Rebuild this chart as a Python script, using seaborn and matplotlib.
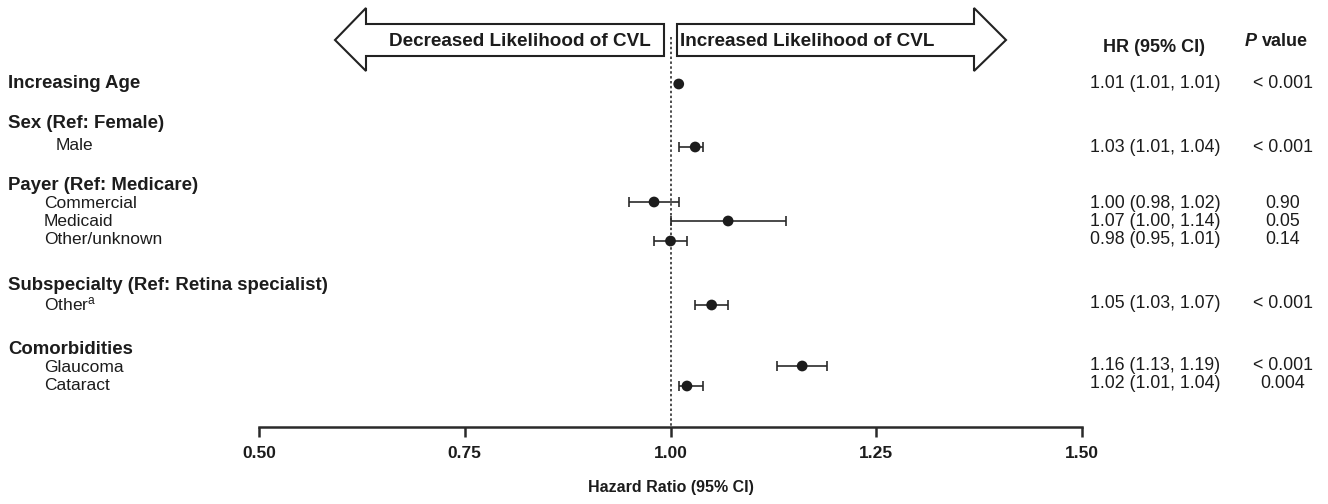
import matplotlib
matplotlib.use("Agg")
import matplotlib.pyplot as plt
import seaborn as sns
import pandas as pd
from matplotlib.patches import Polygon

# ---------------- data ----------------
categories = ["Increasing Age", "Male", "Commercial", "Medicaid", "Other/unknown",
              "Other$^{\\mathrm{a}}$", "Glaucoma", "Cataract"]
hr_point = [1.01, 1.03, 0.98, 1.07, 1.00, 1.05, 1.16, 1.02]
ci_low = [1.01, 1.01, 0.95, 1.00, 0.98, 1.03, 1.13, 1.01]
ci_high = [1.01, 1.04, 1.01, 1.14, 1.02, 1.07, 1.19, 1.04]
hr_text = ["1.01 (1.01, 1.01)", "1.03 (1.01, 1.04)", "1.00 (0.98, 1.02)",
           "1.07 (1.00, 1.14)", "0.98 (0.95, 1.01)", "1.05 (1.03, 1.07)",
           "1.16 (1.13, 1.19)", "1.02 (1.01, 1.04)"]
p_text = ["< 0.001", "< 0.001", "0.90", "0.05", "0.14", "< 0.001", "< 0.001", "0.004"]
group_headers = ["Sex (Ref: Female)", "Payer (Ref: Medicare)",
                 "Subspecialty (Ref: Retina specialist)", "Comorbidities"]
x_ticks = [0.50, 0.75, 1.00, 1.25, 1.50]
x_ticklabels = ["0.50", "0.75", "1.00", "1.25", "1.50"]
arrow_left_text = "Decreased Likelihood of CVL"
arrow_right_text = "Increased Likelihood of CVL"
x_label = "Hazard Ratio (95% CI)"

# ---------------- layout (pixel rows, from top) ----------------
W, H = 1328, 504
row_y = [84, 147, 202, 221, 241, 305, 366, 386]          # marks
label_y = [83, 146, 204, 222, 240, 304, 367, 385]        # left item labels
label_x = [8, 56, 44, 44, 44, 44, 44, 44]
text_y = [83, 148, 203, 222, 240, 303, 365, 383]         # right columns
header_y = [123, 186, 285, 349]

sns.set_theme(style="white")
plt.rcParams["font.family"] = ["Liberation Sans", "DejaVu Sans"]
plt.rcParams["mathtext.fontset"] = "custom"
plt.rcParams["mathtext.rm"] = "Liberation Sans"
plt.rcParams["mathtext.it"] = "Liberation Sans:italic"

ink = "#1c1c1c"
fig = plt.figure(figsize=(W / 100, H / 100), dpi=100)
fig.patch.set_facecolor("white")

# main axes: x in HR units, y in pixel rows
ax = fig.add_axes([259 / W, (H - 427) / H, 823 / W, 427 / H])
ax.set_facecolor("none")

df = pd.DataFrame({"category": categories, "hr": hr_point, "lo": ci_low,
                   "hi": ci_high, "y": row_y})

ax.vlines(1.0, 37, 427, colors=ink, linestyles=(0, (1.6, 1.6)), linewidth=1.1, zorder=1)
ax.errorbar(df["hr"], df["y"], xerr=[df["hr"] - df["lo"], df["hi"] - df["hr"]],
            fmt="none", ecolor="#2a2a2a", elinewidth=1.2, capsize=3.5, capthick=1.2, zorder=2)
sns.scatterplot(data=df, x="hr", y="y", ax=ax, color=ink, s=60, edgecolor="none",
                zorder=3, legend=False)

ax.set_xlim(0.5, 1.5)
ax.set_ylim(427, 0)
ax.set_yticks([])
ax.set_ylabel("")
for s in ["top", "right", "left"]:
    ax.spines[s].set_visible(False)
ax.spines["bottom"].set_linewidth(1.8)
ax.spines["bottom"].set_color("#2a2a2a")
ax.set_xticks(x_ticks)
ax.set_xticklabels(x_ticklabels, fontweight="bold", fontsize=12.5, color=ink)
ax.tick_params(axis="x", direction="out", length=7.5, width=1.8, color="#2a2a2a",
               pad=6, bottom=True)
ax.set_xlabel(x_label, fontsize=11.5, fontweight="bold", color=ink, labelpad=14)

# overlay in pixel coordinates for annotations
ov = fig.add_axes([0, 0, 1, 1])
ov.set_xlim(0, W)
ov.set_ylim(H, 0)
ov.axis("off")
ov.patch.set_alpha(0)

left_arrow = [(335, 40), (366, 8), (366, 24), (664, 24), (664, 56), (366, 56), (366, 71)]
right_arrow = [(1006, 40), (974, 8), (974, 24), (677, 24), (677, 56), (974, 56), (974, 71)]
for pts in (left_arrow, right_arrow):
    ov.add_patch(Polygon(pts, closed=True, facecolor="white", edgecolor="#222222",
                         linewidth=1.5, joinstyle="miter"))
ov.text(520, 41, arrow_left_text, ha="center", va="center", fontsize=13.6,
        fontweight="bold", color=ink)
ov.text(807, 41, arrow_right_text, ha="center", va="center", fontsize=13.6,
        fontweight="bold", color=ink)

# left labels
for i, (lab, y, x) in enumerate(zip(categories, label_y, label_x)):
    ov.text(x, y, lab, ha="left", va="center", fontsize=13.4 if i == 0 else 12.5,
            fontweight="bold" if i == 0 else "normal", color=ink)
for hdr, y in zip(group_headers, header_y):
    ov.text(8, y, hdr, ha="left", va="center", fontsize=13.4, fontweight="bold", color=ink)

# right columns
ov.text(1154, 47, "HR (95% CI)", ha="center", va="center", fontsize=13,
        fontweight="bold", color=ink)
ov.text(1245, 41, "P", ha="left", va="center", fontsize=13, fontweight="bold",
        fontstyle="italic", color=ink)
ov.text(1262, 41, "value", ha="left", va="center", fontsize=13, fontweight="bold",
        color=ink)
for t, p, y in zip(hr_text, p_text, text_y):
    ov.text(1155, y, t, ha="center", va="center", fontsize=12.8, color=ink)
    ov.text(1283, y, p, ha="center", va="center", fontsize=12.8, color=ink)

fig.savefig("out.png", dpi=100, facecolor="white")
